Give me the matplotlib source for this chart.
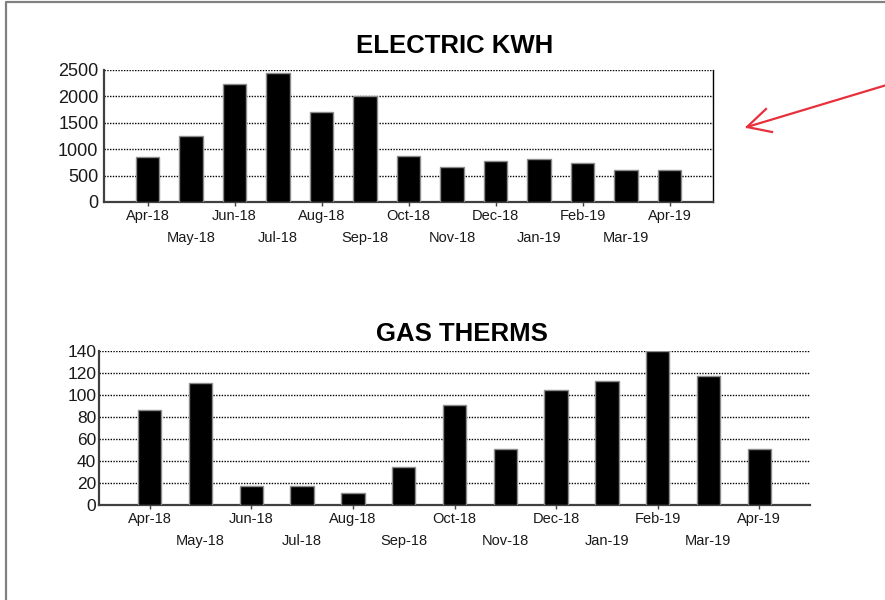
import numpy as np
import matplotlib
matplotlib.use("Agg")
from matplotlib import pyplot as plt
from matplotlib.lines import Line2D

plt.rcParams['font.family'] = ['Liberation Sans', 'DejaVu Sans']

months = ["Apr-18", "May-18", "Jun-18", "Jul-18", "Aug-18", "Sep-18", "Oct-18",
          "Nov-18", "Dec-18", "Jan-19", "Feb-19", "Mar-19", "Apr-19"]
electric_kwh = [860, 1250, 2230, 2440, 1710, 2010, 880, 670, 770, 820, 730, 615, 615]
gas_therms = [86, 111, 17.5, 17.5, 10.5, 35, 90.5, 51, 105, 112.5, 140, 117, 51]

W, H = 885, 600
fig = plt.figure(figsize=(W / 100, H / 100), dpi=100)


def ax_rect(left, top, right, bottom):
    return [left / W, (H - bottom) / H, (right - left) / W, (bottom - top) / H]


def draw_chart(ax, values, yticks, width, ylab_size, ypad, dotted_frame):
    x = np.arange(len(months))
    ax.bar(x, values, width=width, color="black", edgecolor="#8c8c8c",
           linewidth=1.0, zorder=3)
    ax.set_xlim(-1, len(months))
    ax.set_ylim(yticks[0], yticks[-1])
    ax.set_yticks(yticks)
    ax.tick_params(axis="y", length=0, pad=ypad, labelsize=ylab_size,
                   labelcolor="#1a1a1a")
    # alternating two-row month labels
    ax.set_xticks(x[::2])
    ax.set_xticklabels(months[::2])
    ax.set_xticks(x[1::2], minor=True)
    ax.set_xticklabels(months[1::2], minor=True)
    ax.tick_params(axis="x", which="major", length=3, width=1, pad=2,
                   labelsize=10.5, labelcolor="#1a1a1a", color="#404040")
    ax.tick_params(axis="x", which="minor", length=0, pad=21,
                   labelsize=10.5, labelcolor="#1a1a1a")
    for yv in yticks[1:]:
        ax.axhline(yv, color="black", linewidth=1.0, linestyle=(0, (1, 1)),
                   zorder=1)
    for s in ("left", "bottom"):
        ax.spines[s].set_color("#404040")
        ax.spines[s].set_linewidth(1.6)
    ax.spines["top"].set_visible(False)
    if dotted_frame:
        ax.spines["right"].set_linestyle((0, (1, 1)))
        ax.spines["right"].set_linewidth(1.0)
        ax.spines["right"].set_color("black")
    else:
        ax.spines["right"].set_visible(False)


ax1 = fig.add_axes(ax_rect(104, 70, 713, 202))
draw_chart(ax1, electric_kwh, [0, 500, 1000, 1500, 2000, 2500], 0.54, 13, 4, True)

ax2 = fig.add_axes(ax_rect(99, 351, 810, 505))
draw_chart(ax2, gas_therms, [0, 20, 40, 60, 80, 100, 120, 140], 0.46, 12.5, 2, False)

fig.text(455 / W, 1 - 46 / H, "ELECTRIC KWH", ha="center", va="center",
         fontsize=18.5, fontweight="bold")
fig.text(462 / W, 1 - 334 / H, "GAS THERMS", ha="center", va="center",
         fontsize=18.5, fontweight="bold")

# red hand-drawn arrow
fig.add_artist(Line2D([890 / W, 747 / W], [1 - 84 / H, 1 - 127 / H],
                      transform=fig.transFigure, color="#e8303c", linewidth=1.6))
fig.add_artist(Line2D([766 / W, 747 / W, 772 / W],
                      [1 - 109 / H, 1 - 127 / H, 1 - 132 / H],
                      transform=fig.transFigure, color="#e8303c", linewidth=1.6))

# window border
fig.add_artist(Line2D([6 / W, 6 / W, 1.0], [0.0, 1 - 2 / H, 1 - 2 / H],
                      transform=fig.transFigure, color="#808080", linewidth=1.6))

fig.savefig("out.png", dpi=100)
